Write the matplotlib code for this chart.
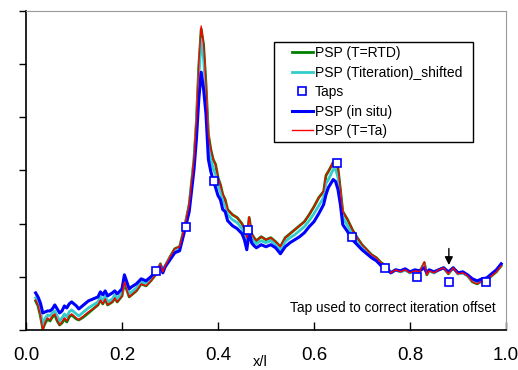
import numpy as np
import matplotlib
matplotlib.use("Agg")
import matplotlib.pyplot as plt
from matplotlib.legend_handler import HandlerLine2D

plt.rcParams['font.family'] = ['Liberation Sans', 'DejaVu Sans']

# chordwise position x/l
x = [0.020, 0.025, 0.030, 0.035, 0.040, 0.045, 0.050, 0.055, 0.060, 0.065,
     0.070, 0.075, 0.080, 0.085, 0.090, 0.095, 0.100, 0.105, 0.110, 0.120,
     0.130, 0.140, 0.150, 0.155, 0.160, 0.165, 0.170, 0.180, 0.185, 0.190,
     0.200, 0.205, 0.210, 0.215, 0.220, 0.230, 0.240, 0.250, 0.260, 0.270,
     0.280, 0.285, 0.290, 0.300, 0.310, 0.320, 0.330, 0.340, 0.350, 0.355,
     0.360, 0.365, 0.370, 0.375, 0.380, 0.385, 0.390, 0.395, 0.400, 0.405,
     0.410, 0.415, 0.420, 0.430, 0.440, 0.450, 0.455, 0.460, 0.465, 0.470,
     0.475, 0.480, 0.490, 0.500, 0.510, 0.520, 0.530, 0.540, 0.550, 0.560,
     0.570, 0.580, 0.590, 0.600, 0.610, 0.620, 0.625, 0.630, 0.640, 0.645,
     0.650, 0.655, 0.660, 0.670, 0.680, 0.690, 0.700, 0.710, 0.720, 0.730,
     0.740, 0.750, 0.760, 0.770, 0.780, 0.790, 0.800, 0.810, 0.820, 0.830,
     0.835, 0.840, 0.850, 0.860, 0.870, 0.880, 0.890, 0.900, 0.910, 0.920,
     0.930, 0.940, 0.950, 0.960, 0.970, 0.980, 0.990]

psp_ta = [30, 25, 15, 0, 8, 12, 10, 14, 16, 10,
          5, 8, 12, 9, 14, 16, 14, 12, 10, 14,
          18, 21, 25, 30, 26, 31, 25, 28, 32, 28,
          34, 48, 40, 33, 35, 39, 46, 44, 49, 55,
          66, 58, 64, 73, 81, 83, 102, 125, 170, 210,
          265, 303, 285, 245, 195, 180, 170, 165, 152, 145,
          135, 130, 120, 115, 112, 106, 100, 92, 113, 96,
          92, 89, 93, 90, 92, 88, 83, 92, 96, 100,
          104, 108, 115, 123, 132, 138, 155, 158, 168, 170,
          162, 140, 118, 110, 100, 92, 85, 80, 75, 72,
          67, 64, 57, 60, 58, 60, 57, 59, 58, 68,
          55, 59, 57, 60, 62, 56, 62, 56, 57, 54,
          48, 46, 49, 50, 54, 58, 64]

psp_rtd = [29, 24, 14, 1, 7, 11, 9, 13, 15, 9,
           5, 7, 11, 8, 13, 15, 13, 11, 10, 13,
           17, 21, 25, 30, 26, 31, 25, 28, 32, 28,
           34, 47, 40, 33, 35, 39, 46, 44, 49, 55,
           66, 58, 64, 73, 81, 83, 102, 125, 170, 208,
           263, 300, 284, 245, 195, 180, 170, 165, 152, 145,
           135, 130, 120, 115, 112, 106, 100, 92, 112, 96,
           92, 89, 93, 90, 92, 88, 83, 92, 96, 100,
           104, 108, 115, 123, 132, 138, 154, 158, 167, 168,
           161, 140, 118, 110, 100, 92, 85, 80, 75, 72,
           67, 64, 57, 60, 58, 60, 57, 59, 58, 67,
           55, 59, 57, 60, 62, 56, 62, 56, 57, 54,
           48, 46, 49, 50, 54, 58, 64]

psp_iter = [32, 28, 19, 5, 12, 15, 14, 17, 19, 14,
            9, 12, 16, 13, 18, 20, 18, 16, 14, 18,
            22, 25, 28, 33, 29, 34, 28, 31, 35, 31,
            37, 51, 43, 36, 38, 42, 48, 46, 51, 56,
            65, 58, 64, 72, 79, 81, 100, 122, 166, 203,
            252, 290, 270, 233, 185, 170, 161, 155, 144, 138,
            128, 124, 115, 110, 107, 101, 95, 86, 106, 92,
            88, 86, 89, 87, 89, 85, 80, 88, 92, 95,
            99, 103, 109, 116, 124, 132, 146, 150, 160, 160,
            152, 133, 112, 104, 95, 88, 82, 78, 73, 70,
            65, 63, 57, 60, 58, 60, 57, 59, 58, 66,
            56, 59, 57, 60, 62, 57, 62, 56, 57, 54,
            49, 47, 50, 51, 55, 59, 65]

psp_insitu = [37, 33, 27, 17, 18, 19, 19, 21, 25, 21,
              17, 19, 24, 22, 26, 28, 26, 24, 21, 25,
              29, 31, 33, 38, 35, 39, 34, 37, 39, 36,
              41, 55, 48, 41, 43, 46, 51, 49, 53, 58,
              64, 57, 63, 70, 77, 79, 98, 118, 160, 190,
              230, 257, 240, 215, 170, 158, 149, 142, 134, 130,
              120, 118, 109, 104, 101, 96, 90, 80, 98, 87,
              84, 82, 85, 83, 85, 82, 76, 83, 87, 90,
              93, 97, 103, 108, 116, 125, 135, 142, 150, 148,
              140, 125, 105, 98, 90, 85, 80, 76, 72, 69,
              64, 62, 57, 60, 59, 61, 58, 60, 59, 62,
              57, 60, 58, 60, 62, 58, 62, 57, 58, 55,
              51, 49, 51, 52, 56, 60, 66]

tap_x = [0.270, 0.333, 0.392, 0.4625, 0.648, 0.679, 0.748, 0.815, 0.881, 0.958]
tap_y = [59, 103, 149, 100, 166, 93, 62, 53, 48, 48]

fig = plt.figure(figsize=(5.18, 3.70), dpi=100)
ax = fig.add_axes([0.0502, 0.1081, 0.9266, 0.8622])

ax.plot(x, psp_rtd, color='#008000', lw=2.0, label='PSP (T=RTD)')
ax.plot(x, psp_iter, color='#33cccc', lw=2.0, label='PSP (Titeration)_shifted')
ax.plot(tap_x, tap_y, ls='none', marker='s', ms=5.5, mfc='white', mec='#0000ff',
        mew=1.2, label='Taps', zorder=5)
ax.plot(x, psp_insitu, color='#0000ff', lw=2.2, label='PSP (in situ)')
ax.plot(x, psp_ta, color='#ff0000', lw=1.0, label='PSP (T=Ta)')

ax.set_xlim(0, 1)
ax.set_ylim(0, 318)
ax.set_xticks([0.0, 0.2, 0.4, 0.6, 0.8, 1.0])
ax.set_xticklabels(['0.0', '0.2', '0.4', '0.6', '0.8', '1.0'])
ax.set_yticks(np.linspace(0, 318, 7))
ax.set_yticklabels([])
ax.tick_params(axis='x', direction='in', length=6, width=1, pad=12, labelsize=13.5)
ax.tick_params(axis='y', direction='out', length=5, width=1)
for s in ['top', 'right']:
    ax.spines[s].set_color('#999999')
for s in ['left', 'bottom']:
    ax.spines[s].set_color('black')
    ax.spines[s].set_linewidth(1.2)

fig.text(260 / 518, 1 - 362 / 370, 'x/l', ha='center', va='center', fontsize=10.5)

ax.annotate('', xy=(0.881, 62), xytext=(0.881, 84),
            arrowprops=dict(arrowstyle='-|>', color='black', lw=1, mutation_scale=12))
ax.text(0.979, 0.069, 'Tap used to correct iteration offset', transform=ax.transAxes,
        ha='right', va='center', fontsize=9.8)

leg = ax.legend(loc='upper left', bbox_to_anchor=(0.517, 0.605, 0.414, 0.298),
                mode='expand', borderaxespad=0,
                handler_map={plt.Line2D: HandlerLine2D(xpad=0.95)},
                fontsize=10, handlelength=2.5, handletextpad=0.15, labelspacing=0.4,
                borderpad=0.3, fancybox=False, framealpha=1, edgecolor='black')
leg.get_frame().set_linewidth(1.0)

fig.savefig('out.png', dpi=100)
